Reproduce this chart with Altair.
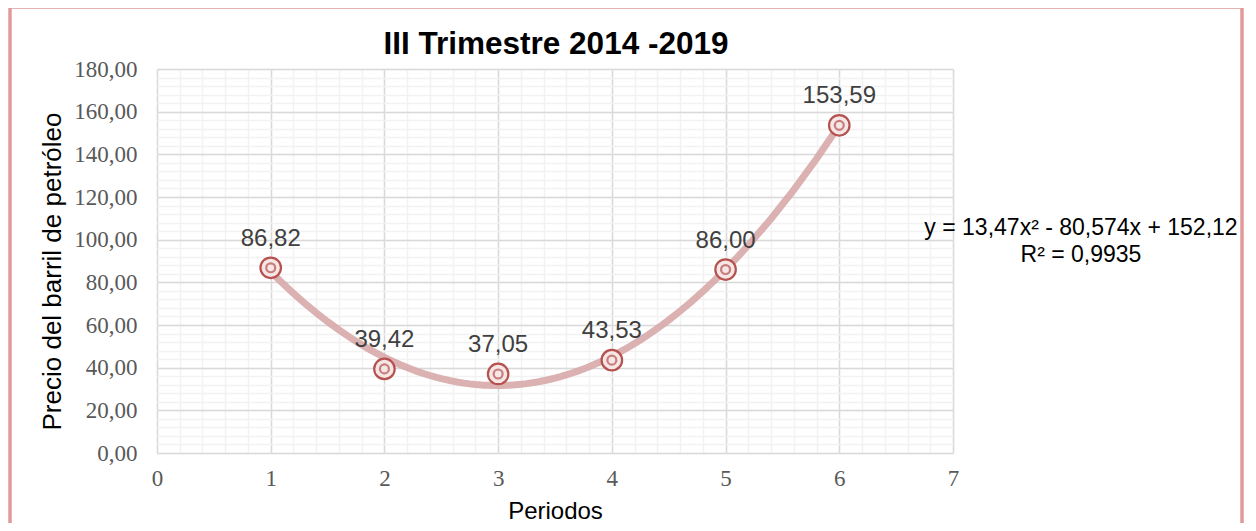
import altair as alt
import pandas as pd

# ---- data ----
periodos = [1, 2, 3, 4, 5, 6]
precios = [86.82, 39.42, 37.05, 43.53, 86.00, 153.59]
titulo = "III Trimestre 2014 -2019"
eje_x = "Periodos"
eje_y = "Precio del barril de petróleo"
ecuacion_1 = "y = 13,47x² - 80,574x + 152,12"
ecuacion_2 = "R² = 0,9935"
x_major = [0, 1, 2, 3, 4, 5, 6, 7]
y_major = [0, 20, 40, 60, 80, 100, 120, 140, 160, 180]
x_minor = [round(i * 0.2, 1) for i in range(36)]
y_minor = list(range(0, 181, 4))

df = pd.DataFrame({"periodo": periodos, "precio": precios})
one = pd.DataFrame({"k": [0]})

W, H = 796, 384
xs = alt.Scale(domain=[0, 7], nice=False, zero=False)
ys = alt.Scale(domain=[0, 180], nice=False)

SANS = "Liberation Sans"
SERIF = "Liberation Serif"

base = alt.Chart(df)

minor = base.mark_point(opacity=0).encode(
    x=alt.X("periodo:Q", scale=xs, axis=alt.Axis(values=x_minor, grid=True, gridColor="#F2F2F2",
                                                 gridWidth=1.5, labels=False, ticks=False, domain=False,
                                                 title=None, orient="bottom")),
    y=alt.Y("precio:Q", scale=ys, axis=alt.Axis(values=y_minor, grid=True, gridColor="#F2F2F2",
                                                gridWidth=1.5, labels=False, ticks=False, domain=False,
                                                title=None, orient="left")),
)

major = base.mark_point(opacity=0).encode(
    x=alt.X("periodo:Q", scale=xs, axis=alt.Axis(
        values=x_major, grid=True, gridColor="#D9D9D9", gridWidth=1.5, ticks=False, domain=False,
        labelPadding=14, labelFlush=False, format="d", orient="bottom",
        title=eje_x, titleX=398, titleY=58, titleBaseline="middle", titleAlign="center",
        titleFontSize=24)),
    y=alt.Y("precio:Q", scale=ys, axis=alt.Axis(
        values=y_major, grid=True, gridColor="#D9D9D9", gridWidth=1.5, ticks=False, domain=False,
        labelPadding=20, labelExpr="replace(format(datum.value, '.2f'), '.', ',')", orient="left",
        title=eje_y, titleX=-105, titleY=202, titleAngle=270, titleBaseline="middle",
        titleAlign="center", titleFontSize=26)),
)

trend = base.transform_regression(
    "periodo", "precio", method="poly", order=2, extent=[1, 6]
).mark_line(color="#D7A9AA", strokeWidth=7, opacity=0.9, strokeCap="butt").encode(
    x=alt.X("periodo:Q", scale=xs, axis=None),
    y=alt.Y("precio:Q", scale=ys, axis=None),
)

outer = base.mark_point(shape="circle", filled=False, size=420, color="#B5524F",
                        strokeWidth=2.2, fill="#F6E6E6", fillOpacity=1).encode(
    x=alt.X("periodo:Q", scale=xs, axis=None),
    y=alt.Y("precio:Q", scale=ys, axis=None),
)
inner = base.mark_point(shape="circle", filled=False, size=80, color="#B5524F",
                        strokeWidth=2.2).encode(
    x=alt.X("periodo:Q", scale=xs, axis=None),
    y=alt.Y("precio:Q", scale=ys, axis=None),
)

labels = base.transform_calculate(
    lbl="replace(format(datum.precio, '.2f'), '.', ',')"
).mark_text(font=SANS, fontSize=24, color="#404040", dy=-22, baseline="alphabetic", align="center").encode(
    x=alt.X("periodo:Q", scale=xs, axis=None),
    y=alt.Y("precio:Q", scale=ys, axis=None),
    text="lbl:N",
)

title_mark = alt.Chart(one).mark_text(
    text=titulo, font=SANS, fontSize=31.5, fontWeight="bold", color="#000000",
    align="center", baseline="alphabetic"
).encode(x=alt.value(399), y=alt.value(-15))

eq1 = alt.Chart(one).mark_text(
    text=ecuacion_1, font=SANS, fontSize=23, color="#000000", align="center", baseline="alphabetic"
).encode(x=alt.value(924), y=alt.value(166))
eq2 = alt.Chart(one).mark_text(
    text=ecuacion_2, font=SANS, fontSize=23, color="#000000", align="center", baseline="alphabetic"
).encode(x=alt.value(924), y=alt.value(193))

border = alt.Chart(one).mark_rect(
    fill="transparent", stroke="#E09A9A", strokeWidth=3.5
).encode(x=alt.value(-147), x2=alt.value(1085), y=alt.value(-62), y2=alt.value(500))

chart = alt.layer(
    minor, major, trend, outer, inner, labels, title_mark, eq1, eq2, border
).resolve_axis(x="independent", y="independent").properties(
    width=W, height=H,
    autosize=alt.AutoSizeParams(type="none"),
    padding={"left": 149, "top": 61, "right": 295, "bottom": 70},
).configure_view(strokeWidth=0).configure_axis(
    labelFont=SERIF, labelFontSize=23, labelColor="#595959",
    titleFont=SANS, titleColor="#000000", titleFontWeight="normal",
)

chart.save("out.html", embed_options={"renderer": "svg", "actions": False})
